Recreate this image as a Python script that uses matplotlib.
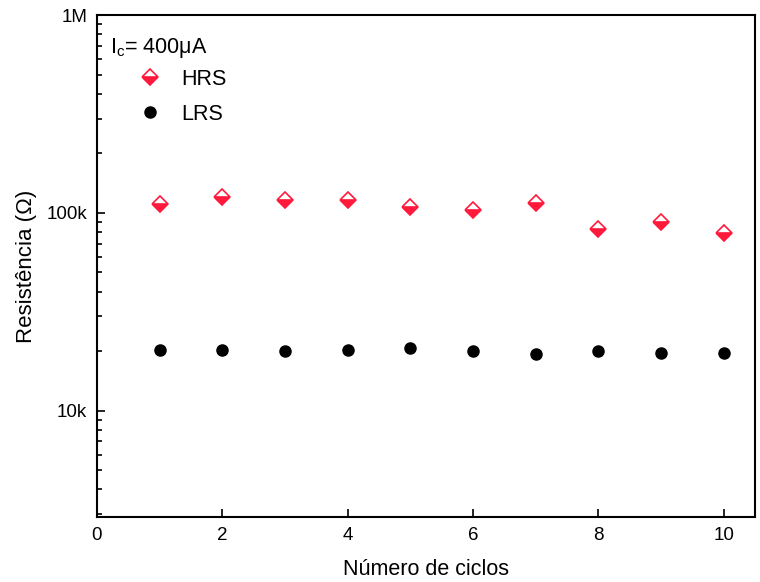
import matplotlib
matplotlib.use("Agg")
import matplotlib.pyplot as plt
from matplotlib.ticker import FixedLocator, FuncFormatter, LogLocator, NullFormatter

plt.rcParams['font.family'] = ['Liberation Sans', 'DejaVu Sans']

cycles = [1, 2, 3, 4, 5, 6, 7, 8, 9, 10]
hrs = [111e3, 120e3, 116e3, 116e3, 107e3, 103e3, 112e3, 83e3, 90e3, 79e3]
lrs = [20.2e3, 20.2e3, 20.0e3, 20.2e3, 20.7e3, 20.1e3, 19.4e3, 20.0e3, 19.5e3, 19.6e3]
x_ticks = [0, 2, 4, 6, 8, 10]
y_ticks = [1e4, 1e5, 1e6]
y_labels = {1e4: "10k", 1e5: "100k", 1e6: "1M"}

fig = plt.figure(figsize=(7.6, 5.82), dpi=100)
ax = fig.add_axes([0.1276, 0.1117, 0.8658, 0.8623])

red = "#ff1a3c"
ax.plot(cycles, hrs, linestyle="none", marker="D", markersize=8.3,
        fillstyle="bottom", markerfacecolor=red, markerfacecoloralt="white",
        markeredgecolor=red, markeredgewidth=1.2, label="HRS", zorder=3)
ax.plot(cycles, lrs, linestyle="none", marker="o", markersize=8,
        color="black", label="LRS", zorder=3)

ax.set_yscale("log")
ax.set_xlim(0, 10.5)
ax.set_ylim(2.9e3, 1e6)

ax.xaxis.set_major_locator(FixedLocator(x_ticks))
ax.yaxis.set_major_locator(FixedLocator(y_ticks))
ax.yaxis.set_major_formatter(FuncFormatter(lambda v, p: y_labels.get(v, "")))
ax.yaxis.set_minor_locator(LogLocator(base=10, subs=range(2, 10)))
ax.yaxis.set_minor_formatter(NullFormatter())

ax.tick_params(axis="both", which="both", direction="in", top=False, right=False,
               labelsize=13.5, width=1.2)
ax.tick_params(axis="both", which="major", length=6, pad=7)
ax.tick_params(axis="y", which="minor", length=3.5)
for s in ax.spines.values():
    s.set_linewidth(1.5)

ax.set_xlabel("Número de ciclos", fontsize=15.5, labelpad=11)
ax.set_ylabel("Resistência (Ω)", fontsize=16, labelpad=7)

ax.text(0.02, 0.935, r"I$_\mathregular{c}$= 400μA", transform=ax.transAxes,
        fontsize=15.5, va="center", ha="left")

ax.legend(loc="upper left", bbox_to_anchor=(0.045, 0.91), frameon=False,
          fontsize=15.5, handletextpad=0.75, labelspacing=0.65, borderaxespad=0,
          handlelength=1.4)

fig.savefig("out.png", dpi=100)
